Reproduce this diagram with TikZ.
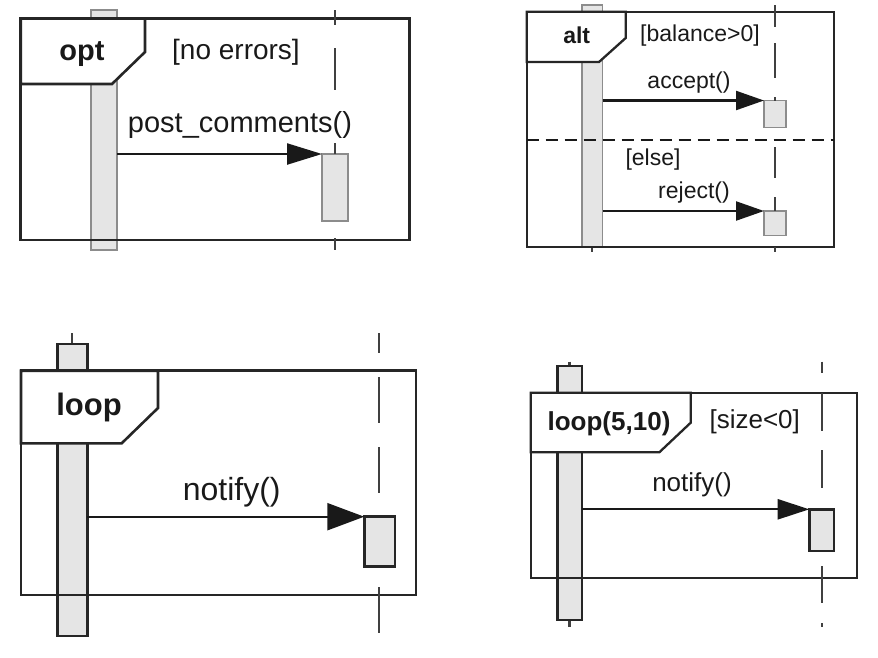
\documentclass[tikz,border=0pt]{standalone}
\usepackage{fontspec}
\setmainfont{Liberation Sans}
\usetikzlibrary{arrows.meta}
\newcommand\myfs[1]{\fontsize{#1}{#1}\selectfont}
\tikzset{
  frame/.style={draw=black!85,line width=2.6pt},
  tab/.style={fill=white,draw=black!85,line width=2.6pt,line join=miter},
  barthin/.style={draw=black!45,fill=black!10,line width=1.2pt,inner sep=0pt,outer sep=0pt},
  barbold/.style={draw=black!85,fill=black!10,line width=2.8pt,inner sep=0pt,outer sep=0pt},
  life/.style={draw=black!75,line width=2.2pt},
  msg/.style={draw=black!90,line width=2.3pt},
  lbl/.style={inner sep=0pt,anchor=base,text=black!90},
  sep/.style={draw=black!90,line width=2.2pt,dash pattern=on 12pt off 7pt}
}
\begin{document}
\begin{tikzpicture}[x=1pt,y=-1pt]
\useasboundingbox (0,0) rectangle (878,657);

%% ---------- Panel 1: opt ----------
\node[barthin,minimum width=26pt,minimum height=240pt] (b1) at (104,130) {};
\node[barthin,minimum width=26pt,minimum height=67pt] (r1) at (335,187.5) {};
\draw[tab] (20.7,18.3) -- (145,18.3) -- (145,52) -- (112,84) -- (20.7,84) -- cycle;
\draw[frame] (20.7,18.3) rectangle (409.3,240);
\foreach \a/\b in {10/25,48/90,143/154,238/250} \draw[life] (335,\a) -- (335,\b);
\draw[msg,-{Triangle[length=35pt,width=21pt]}] (b1.east |- r1.north west) -- (r1.north west);
\node[lbl,font=\myfs{29}\bfseries] (t1) at (82,60) {opt};
\node[lbl,font=\myfs{28}] (g1) at (236,59.5) {[no errors]};
\node[lbl,font=\myfs{29}] (m1) at (240,132) {post\_comments()};

%% ---------- Panel 2: alt ----------
\node[barthin,minimum width=20.7pt,minimum height=242pt] (b2) at (592.3,126) {};
\draw[life] (592.3,247) -- (592.3,252);
\node[barthin,minimum width=22pt,minimum height=27.2pt] (r2a) at (775,114.1) {};
\node[barthin,minimum width=22pt,minimum height=24.3pt] (r2b) at (775,223.15) {};
\draw[tab,line width=2.3pt] (526.7,11.7) -- (625.7,11.7) -- (625.7,38) -- (599,62) -- (526.7,62) -- cycle;
\draw[frame,line width=2.3pt] (526.7,11.7) rectangle (834,247);
\draw[sep] (526.7,140) -- (834,140);
\foreach \a/\b in {5/26.7,43/78,97/100.5,147/178,197/211,247/252} \draw[life] (775,\a) -- (775,\b);
\draw[msg,-{Triangle[length=28pt,width=19pt]}] (b2.east |- r2a.north west) -- (r2a.north west);
\draw[msg,-{Triangle[length=28pt,width=19pt]}] (b2.east |- r2b.north west) -- (r2b.north west);
\node[lbl,font=\myfs{23}\bfseries] (t2) at (576.7,43.3) {alt};
\node[lbl,font=\myfs{23}] (g2) at (700,41.5) {[balance>0]};
\node[lbl,font=\myfs{23}] (m2a) at (689,88) {accept()};
\node[lbl,font=\myfs{23}] (g2b) at (653,165) {[else]};
\node[lbl,font=\myfs{23}] (m2b) at (694,198) {reject()};

%% ---------- Panel 3: loop ----------
\draw[life] (71.7,333) -- (71.7,344);
\node[barbold,minimum width=30pt,minimum height=292pt] (b3) at (72.3,490) {};
\node[barbold,minimum width=30.7pt,minimum height=50pt] (r3) at (379.6,541.7) {};
\draw[tab] (21,370.7) -- (158,370.7) -- (158,408) -- (121.7,443.3) -- (21,443.3) -- cycle;
\draw[frame] (21,370.7) rectangle (416,595);
\foreach \a/\b in {333/353,377/423,447/493,587/633} \draw[life] (379.3,\a) -- (379.3,\b);
\draw[msg,-{Triangle[length=37pt,width=27pt]}] (b3.east |- r3.north west) -- (r3.north west);
\node[lbl,font=\myfs{31}\bfseries] (t3) at (89,415) {loop};
\node[lbl,font=\myfs{32}] (m3) at (231.7,500) {notify()};

%% ---------- Panel 4: loop(5,10) ----------
\draw[life] (569.5,361.7) -- (569.5,366);
\draw[life] (569.5,620) -- (569.5,627);
\node[barbold,line width=2.4pt,minimum width=24.4pt,minimum height=254pt] (b4) at (569.5,493) {};
\node[barbold,line width=2.4pt,minimum width=24.7pt,minimum height=41.4pt] (r4) at (821.65,530) {};
\draw[tab,line width=2.3pt] (530.7,392.7) -- (690.7,392.7) -- (690.7,422.7) -- (659.3,452.3) -- (530.7,452.3) -- cycle;
\draw[frame,line width=2.3pt] (530.7,392.7) rectangle (856.7,577.7);
\foreach \a/\b in {361.7/373,393/431,450/488,566/603,623/627} \draw[life] (821.7,\a) -- (821.7,\b);
\draw[msg,-{Triangle[length=31.6pt,width=20pt]}] (b4.east |- r4.north west) -- (r4.north west);
\node[lbl,font=\myfs{26}\bfseries] (t4) at (609,430) {loop(5,10)};
\node[lbl,font=\myfs{26}] (g4) at (754.7,428) {[size<0]};
\node[lbl,font=\myfs{26}] (m4) at (692,491.7) {notify()};
\end{tikzpicture}
\end{document}
